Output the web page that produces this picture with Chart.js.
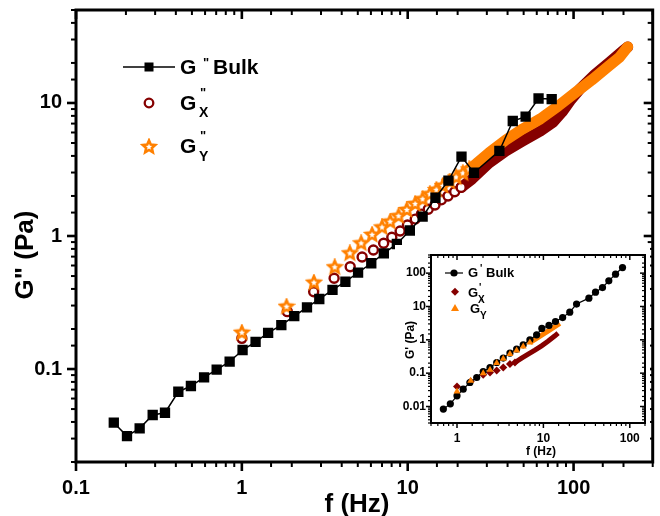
<!DOCTYPE html>
<html>
<head>
<meta charset="utf-8">
<script src="https://cdn.jsdelivr.net/npm/chart.js@4"></script>
<style>
  body { margin: 0; background: #fff; }
  #wrap { position: relative; width: 660px; height: 516px; }
  #main { position: absolute; left: 0; top: 0; }
  #inset { position: absolute; left: 395px; top: 245px; }
</style>
</head>
<body>
<div id="wrap">
  <canvas id="main" width="660" height="516"></canvas>
  <canvas id="inset" width="255" height="215"></canvas>
</div>
<script>
// ---- main plot: G'' (Pa) vs f (Hz) ----
const bulkF = [0.169, 0.203, 0.242, 0.290, 0.344, 0.414, 0.493, 0.592, 0.705, 0.844, 1.01, 1.21, 1.44, 1.73, 2.07, 2.47, 2.93, 3.52, 4.21, 5.02, 6.03, 7.18, 8.60, 10.3, 12.3, 14.7, 17.6, 21.1, 25.1, 35.7, 43.0, 51.4, 61.5, 73.8];
const bulkG = [0.0395, 0.0313, 0.0358, 0.0451, 0.0469, 0.0675, 0.0745, 0.0866, 0.099, 0.1135, 0.139, 0.160, 0.187, 0.214, 0.250, 0.291, 0.336, 0.393, 0.453, 0.530, 0.624, 0.741, 0.871, 1.10, 1.40, 1.94, 2.61, 3.95, 2.99, 4.36, 7.32, 7.89, 10.8, 10.7];

const gxF = [1.0, 1.88, 2.71, 3.60, 4.50, 5.31, 6.21, 7.16, 8.02, 9.0, 9.96, 11.1, 12.1, 13.3, 14.6, 15.96, 17.5, 19.2, 21.0];
const gxG = [0.170, 0.270, 0.381, 0.481, 0.588, 0.695, 0.785, 0.881, 0.978, 1.09, 1.21, 1.34, 1.46, 1.59, 1.71, 1.87, 2.0, 2.15, 2.32];
// dense part, markers merge into a band
const gxBandF = [21.0, 24.4, 30.9, 39.0, 49.3, 63.1, 75.5, 85.3, 95.3, 109, 134, 165, 198, 212];
const gxBandG = [2.32, 2.68, 3.54, 4.36, 5.18, 6.16, 7.20, 8.56, 10.4, 12.7, 16.3, 20.3, 24.6, 26.4];

const gyF = [1.0, 1.86, 2.72, 3.63, 4.48, 5.24, 6.10, 7.0, 7.84, 8.80, 9.87, 11.1, 12.3, 13.6, 14.9, 16.3, 17.9, 19.6, 21.5, 23.5];
const gyG = [0.1875, 0.294, 0.446, 0.582, 0.741, 0.881, 1.02, 1.16, 1.28, 1.41, 1.57, 1.74, 1.89, 2.06, 2.22, 2.38, 2.56, 2.76, 2.96, 3.17];
const gyBandF = [23.5, 25.8, 30.9, 39.0, 49.3, 63.1, 80.8, 102, 129, 161, 190, 212];
const gyBandG = [3.17, 3.48, 4.21, 5.27, 6.38, 7.59, 9.49, 11.9, 14.9, 18.7, 22.2, 26.4];

// ---- inset: G' (Pa) vs f (Hz) ----
const inBulkF = [0.695, 0.837, 1.0, 1.18, 1.41, 1.69, 2.01, 2.41, 2.88, 3.43, 4.10, 4.90, 5.84, 6.98, 8.35, 9.6, 11.6, 13.8, 16.7, 20.2, 24.2, 33.6, 40.1, 48.3, 57.2, 68.4, 82.4];
const inBulkG = [0.00835, 0.0120, 0.0209, 0.0332, 0.0525, 0.074, 0.112, 0.148, 0.209, 0.283, 0.399, 0.526, 0.708, 1.0, 1.41, 2.2, 2.7, 3.54, 4.66, 6.77, 11.8, 17.8, 26.9, 37.0, 58.8, 93.3, 147];
const inXF = [1.0, 1.44, 2.01, 2.41, 2.88, 3.43, 4.10, 4.68];
const inXG = [0.040, 0.056, 0.089, 0.105, 0.120, 0.148, 0.187, 0.209];
const inXBandF = [4.68, 5.60, 6.67, 7.98, 9.53, 11.3, 13.6, 14.8];
const inXBandG = [0.209, 0.283, 0.373, 0.491, 0.661, 0.902, 1.32, 1.59];
const inYF = [1.0, 1.44, 2.01, 2.41, 2.88, 3.43, 4.10, 4.90, 5.84, 6.98];
const inYG = [0.028, 0.059, 0.10, 0.126, 0.20, 0.269, 0.373, 0.478, 0.63, 0.83];
const inYBandF = [6.98, 8.35, 9.87, 11.9, 14.0, 15.5];
const inYBandG = [0.83, 1.11, 1.46, 2.0, 2.63, 3.12];

const ORANGE = "#ff8000";
const DARKRED = "#850000";
const FONT = "'Liberation Sans', Arial, sans-serif";

const pts = (xs, ys) => xs.map((x, i) => ({ x: x, y: ys[i] }));
const isDecade = (v) => {
  const l = Math.log10(v);
  return Math.abs(l - Math.round(l)) < 1e-6;
};
const decadeLabel = (v) => (isDecade(v) ? String(Number(v.toPrecision(3))) : "");
// keep the plot box where it is, no room reserved for edge labels
const fixBox = (w, h) => (s) => {
  if (w) s.width = w;
  if (h) s.height = h;
  s.paddingLeft = s.paddingRight = s.paddingTop = s.paddingBottom = 0;
};

// open star marker
function starImg(R, r, lw, color) {
  const s = Math.ceil(2 * R + lw + 2);
  const c = document.createElement("canvas");
  c.width = c.height = s;
  const g = c.getContext("2d");
  g.translate(s / 2, s / 2);
  g.beginPath();
  for (let i = 0; i < 10; i++) {
    const a = -Math.PI / 2 + (i * Math.PI) / 5;
    const rr = i % 2 ? r : R;
    g.lineTo(rr * Math.cos(a), rr * Math.sin(a));
  }
  g.closePath();
  g.fillStyle = "#fff";
  g.fill();
  g.lineWidth = lw;
  g.strokeStyle = color;
  g.stroke();
  return c;
}
const star = starImg(6.5, 3, 2.6, ORANGE);

function line(ctx, x1, y1, x2, y2) {
  ctx.beginPath();
  ctx.moveTo(x1, y1);
  ctx.lineTo(x2, y2);
  ctx.stroke();
}

// ticks: out on bottom/left, in on top/right, plus the frame
function framePlugin(o) {
  return {
    id: "frame",
    afterDraw(chart) {
      const { ctx, chartArea: a } = chart;
      const xs = chart.scales.x, ys = chart.scales.y;
      ctx.save();
      ctx.strokeStyle = "#000";
      xs.ticks.forEach((t) => {
        const p = xs.getPixelForValue(t.value);
        const maj = isDecade(t.value);
        const L = maj ? o.major : o.minor;
        ctx.lineWidth = maj ? o.wMaj : o.wMin;
        line(ctx, p, a.bottom, p, a.bottom + L);
        line(ctx, p, a.top, p, a.top + L);
      });
      ys.ticks.forEach((t) => {
        const p = ys.getPixelForValue(t.value);
        const maj = isDecade(t.value);
        const L = maj ? o.major : o.minor;
        ctx.lineWidth = maj ? o.wMaj : o.wMin;
        line(ctx, a.left - L, p, a.left, p);
        line(ctx, a.right - L, p, a.right, p);
      });
      ctx.lineWidth = o.frame;
      ctx.strokeRect(a.left, a.top, a.right - a.left, a.bottom - a.top);
      ctx.restore();
    },
  };
}

const mainText = {
  id: "mainText",
  afterDraw(chart) {
    const ctx = chart.ctx;
    ctx.save();
    ctx.fillStyle = "#000";
    // axis titles
    ctx.font = "bold 26px " + FONT;
    ctx.textAlign = "center";
    ctx.fillText("f (Hz)", 357, 512);
    ctx.save();
    ctx.translate(33, 255);
    ctx.rotate(-Math.PI / 2);
    ctx.fillText('G" (Pa)', 0, 0);
    ctx.restore();
    // legend
    ctx.textAlign = "left";
    ctx.strokeStyle = "#000";
    ctx.lineWidth = 1.5;
    line(ctx, 123, 67, 175, 67);
    ctx.fillRect(144.5, 62.5, 9, 9);
    ctx.beginPath();
    ctx.arc(149, 103, 4.3, 0, Math.PI * 2);
    ctx.fillStyle = "#fff";
    ctx.fill();
    ctx.strokeStyle = DARKRED;
    ctx.lineWidth = 2.3;
    ctx.stroke();
    ctx.drawImage(star, 149 - star.width / 2, 147 - star.height / 2);
    ctx.fillStyle = "#000";
    ctx.font = "bold 21px " + FONT;
    ctx.fillText("G", 180, 74);
    ctx.fillText("Bulk", 213, 74);
    ctx.fillText("G", 180, 110);
    ctx.fillText("G", 180, 153);
    ctx.font = "bold 13px " + FONT;
    ctx.fillText('"', 203, 67);
    ctx.fillText('"', 200, 97);
    ctx.fillText('"', 200, 140);
    ctx.font = "bold 14px " + FONT;
    ctx.fillText("X", 199, 117);
    ctx.fillText("Y", 199, 161);
    ctx.restore();
  },
};

const tickFont = { family: FONT, size: 20, weight: "bold" };

new Chart("main", {
  type: "line",
  data: {
    datasets: [
      {
        data: pts(bulkF, bulkG),
        borderColor: "#000",
        borderWidth: 1.5,
        pointStyle: "rect",
        pointRadius: 7.3,
        pointBackgroundColor: "#000",
        pointBorderWidth: 0,
        order: 0,
      },
      {
        data: pts(gyF, gyG),
        showLine: false,
        pointStyle: star,
        pointRadius: 6,
        order: 1,
      },
      {
        data: pts(gyBandF, gyBandG),
        borderColor: ORANGE,
        borderWidth: 11,
        borderCapStyle: "round",
        borderJoinStyle: "round",
        pointRadius: 0,
        order: 2,
      },
      {
        data: pts(gxF, gxG),
        showLine: false,
        pointStyle: "circle",
        pointRadius: 4.5,
        pointBorderWidth: 2.4,
        pointBorderColor: DARKRED,
        pointBackgroundColor: "#fff",
        order: 3,
      },
      {
        data: pts(gxBandF, gxBandG),
        borderColor: DARKRED,
        borderWidth: 11,
        borderCapStyle: "round",
        borderJoinStyle: "round",
        pointRadius: 0,
        order: 4,
      },
    ],
  },
  options: {
    responsive: false,
    animation: false,
    layout: { padding: { top: 10, right: 2, left: 0, bottom: 0 } },
    plugins: { legend: { display: false }, tooltip: { enabled: false } },
    scales: {
      x: {
        type: "logarithmic",
        min: 0.1,
        max: 300,
        grid: { display: false, drawTicks: false },
        border: { display: false },
        ticks: { autoSkip: false, maxRotation: 0, color: "#000", font: tickFont, padding: 14, callback: decadeLabel },
        afterFit: fixBox(0, 54),
      },
      y: {
        type: "logarithmic",
        min: 0.02,
        max: 50,
        grid: { display: false, drawTicks: false },
        border: { display: false },
        ticks: { autoSkip: false, color: "#000", font: tickFont, padding: 14, callback: decadeLabel },
        afterFit: fixBox(76, 0),
      },
    },
  },
  plugins: [framePlugin({ major: 9, minor: 5, wMaj: 2.6, wMin: 2, frame: 3 }), mainText],
});

// ---- inset chart ----
const insetText = {
  id: "insetText",
  beforeDraw(chart) {
    const ctx = chart.ctx;
    ctx.save();
    ctx.fillStyle = "#fff";
    ctx.fillRect(0, 0, chart.width, chart.height);
    ctx.restore();
  },
  afterDraw(chart) {
    const ctx = chart.ctx;
    ctx.save();
    ctx.fillStyle = "#000";
    ctx.font = "bold 12px " + FONT;
    ctx.textAlign = "center";
    ctx.fillText("f (Hz)", 146, 210);
    ctx.save();
    ctx.translate(19, 95);
    ctx.rotate(-Math.PI / 2);
    ctx.fillText("G' (Pa)", 0, 0);
    ctx.restore();
    // legend
    ctx.textAlign = "left";
    ctx.strokeStyle = "#000";
    ctx.lineWidth = 1.2;
    line(ctx, 50, 28, 68, 28);
    ctx.beginPath();
    ctx.arc(59, 28, 3.6, 0, Math.PI * 2);
    ctx.fill();
    ctx.fillStyle = DARKRED;
    ctx.beginPath();
    ctx.moveTo(60, 42.7); ctx.lineTo(64, 46.7); ctx.lineTo(60, 50.7); ctx.lineTo(56, 46.7);
    ctx.closePath();
    ctx.fill();
    ctx.fillStyle = ORANGE;
    ctx.beginPath();
    ctx.moveTo(60, 59); ctx.lineTo(64, 66); ctx.lineTo(56, 66);
    ctx.closePath();
    ctx.fill();
    ctx.fillStyle = "#000";
    ctx.font = "bold 13px " + FONT;
    ctx.fillText("G", 73, 32);
    ctx.fillText("Bulk", 91, 32);
    ctx.fillText("G", 73, 52);
    ctx.fillText("G", 75, 68);
    ctx.font = "bold 10px " + FONT;
    ctx.fillText("'", 85, 27);
    ctx.fillText("'", 84, 46);
    ctx.fillText("'", 86, 62);
    ctx.fillText("X", 83, 58);
    ctx.fillText("Y", 85, 74);
    ctx.restore();
  },
};

const inFont = { family: FONT, size: 12, weight: "bold" };

new Chart("inset", {
  type: "line",
  data: {
    datasets: [
      {
        data: pts(inYF, inYG),
        showLine: false,
        pointStyle: "triangle",
        pointRadius: 4,
        pointBackgroundColor: ORANGE,
        pointBorderWidth: 0,
        order: 0,
      },
      {
        data: pts(inBulkF, inBulkG),
        borderColor: "#000",
        borderWidth: 1.2,
        pointStyle: "circle",
        pointRadius: 3.6,
        pointBackgroundColor: "#000",
        pointBorderWidth: 0,
        order: 1,
      },
      {
        data: pts(inYBandF, inYBandG),
        borderColor: ORANGE,
        borderWidth: 5,
        pointRadius: 0,
        order: 2,
      },
      {
        data: pts(inXF, inXG),
        showLine: false,
        pointStyle: "rectRot",
        pointRadius: 4,
        pointBackgroundColor: DARKRED,
        pointBorderWidth: 0,
        order: 3,
      },
      {
        data: pts(inXBandF, inXBandG),
        borderColor: DARKRED,
        borderWidth: 5,
        pointRadius: 0,
        order: 4,
      },
    ],
  },
  options: {
    responsive: false,
    animation: false,
    layout: { padding: { top: 10, right: 5, left: 0, bottom: 0 } },
    plugins: { legend: { display: false }, tooltip: { enabled: false } },
    scales: {
      x: {
        type: "logarithmic",
        min: 0.5,
        max: 150,
        grid: { display: false, drawTicks: false },
        border: { display: false },
        ticks: { autoSkip: false, maxRotation: 0, color: "#000", font: inFont, padding: 8, callback: decadeLabel },
        afterFit: fixBox(0, 37),
      },
      y: {
        type: "logarithmic",
        min: 0.0032,
        max: 350,
        grid: { display: false, drawTicks: false },
        border: { display: false },
        ticks: { autoSkip: false, color: "#000", font: inFont, padding: 5, callback: decadeLabel },
        afterFit: fixBox(36, 0),
      },
    },
  },
  plugins: [insetText, framePlugin({ major: 5, minor: 3, wMaj: 1.5, wMin: 1.2, frame: 2 })],
});
</script>
</body>
</html>
